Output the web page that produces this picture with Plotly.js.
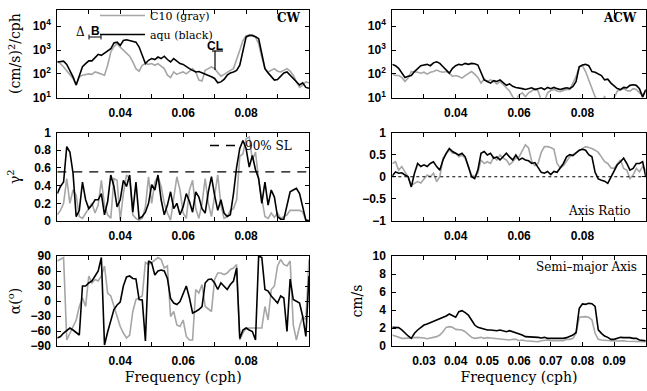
<!DOCTYPE html>
<html><head><meta charset="utf-8">
<script src="https://cdn.plot.ly/plotly-3.0.1.min.js"></script>
<style>html,body{margin:0;padding:0;background:#fff}</style>
</head><body><div id="chart" style="width:647px;height:391px"></div>
<script>
// ---------- data ----------
const freq = [0.020,0.021,0.022,0.023,0.024,0.025,0.026,0.027,0.028,0.029,
  0.030,0.031,0.032,0.033,0.034,0.035,0.036,0.037,0.038,0.039,
  0.040,0.041,0.042,0.043,0.044,0.045,0.046,0.047,0.048,0.049,
  0.050,0.051,0.052,0.053,0.054,0.055,0.056,0.057,0.058,0.059,
  0.060,0.061,0.062,0.063,0.064,0.065,0.066,0.067,0.068,0.069,
  0.070,0.071,0.072,0.073,0.074,0.075,0.076,0.077,0.078,0.079,
  0.080,0.081,0.082,0.083,0.084,0.085,0.086,0.087,0.088,0.089,
  0.090,0.091,0.092,0.093,0.094,0.095,0.096,0.097,0.098,0.099,
  0.100];

// CW spectra (cm/s)^2/cph
const cwAqu = [316,340,340,250,140,75,34,88,200,270,
  350,350,500,660,600,750,980,1130,2000,2150,
  1570,2500,2700,2500,2400,2150,1330,600,270,370,
  440,400,510,440,550,400,316,440,350,270,
  250,195,166,140,120,125,110,100,90,75,
  64,42,46,58,88,110,120,140,230,980,
  3500,4100,4100,3600,3000,700,166,110,75,55,
  58,80,110,120,88,64,46,34,42,27,
  25];
const cwC10 = [340,270,195,130,88,64,34,75,88,95,
  100,95,120,110,95,88,230,830,1400,1830,
  1330,980,700,550,316,166,130,230,270,250,
  270,230,270,210,166,88,70,120,95,110,
  120,100,130,166,120,55,50,140,166,195,
  166,120,80,95,120,140,166,370,980,2500,
  4000,4100,4000,3500,1830,500,166,120,140,166,
  130,120,140,166,130,88,46,27,34,46,
  42];
// ACW spectra
const acwAqu = [250,220,170,107,71,80,85,125,170,220,
  235,250,220,290,320,275,200,145,107,170,
  220,250,235,275,250,275,265,235,107,56,
  48,41,52,48,56,41,33,38,30,27,
  26,24,22,24,26,22,24,26,22,27,
  24,27,24,22,24,26,24,30,48,200,
  235,250,220,125,117,97,85,56,60,41,
  30,24,22,27,26,33,35,33,24,10.6,
  22];
const acwC10 = [100,85,85,71,48,66,125,125,117,107,
  117,97,117,125,145,125,117,125,107,78,
  85,78,66,85,107,125,97,71,41,60,
  48,56,48,38,48,35,24,19,11,8,
  13,16,11,16,19,24,19,8,7,16,
  20,22,19,18,20,22,22,41,78,200,
  220,125,56,26,11,7,7,11,7,7,
  10,19,22,24,20,19,24,22,16,13,
  19];
// coherence squared
const cohAqu = [0.31,0.39,0.44,0.84,0.78,0.54,0.05,0.12,0.44,0.24,
  0.14,0.18,0.24,0.24,0.31,0.07,0.22,0.52,0.39,0.16,
  0.24,0.46,0.39,0.52,0.10,0.44,0.03,0.05,0.10,0.20,
  0.41,0.35,0.52,0.24,0.07,0.18,0.33,0.14,0.20,0.07,
  0.16,0.31,0.22,0.10,0.33,0.27,0.14,0.09,0.33,0.50,
  0.29,0.12,0.24,0.09,0.05,0.07,0.31,0.61,0.82,0.91,
  0.82,0.61,0.74,0.58,0.48,0.20,0.44,0.18,0.35,0.27,
  0.05,0.02,0.02,0.16,0.33,0.35,0.37,0.31,0.14,0.01,
  0];
const cohC10 = [0.07,0.12,0.20,0.48,0.20,0.35,0.29,0.05,0.03,0.09,
  0.14,0.20,0.09,0.18,0.46,0.18,0.07,0.03,0.48,0.46,
  0.01,0.31,0.52,0.48,0.07,0.03,0.01,0.03,0.16,0.50,
  0.20,0.44,0.50,0.39,0.20,0.09,0.01,0.24,0.50,0.35,
  0.09,0.03,0.35,0.46,0.14,0.03,0.20,0.48,0.20,0.05,
  0.31,0.52,0.18,0.03,0.05,0.12,0.14,0.24,0.73,0.76,
  0.93,0.95,0.69,0.78,0.46,0.24,0.05,0.03,0.09,0.04,
  0.09,0.03,0.05,0.07,0.12,0.12,0.12,0.12,0.10,0.01,
  0.01];
const SL90 = 0.555;
// axis ratio
const arAqu = [0.02,0.11,0.08,0.09,0.04,0,-0.23,0.08,0.30,0.23,
  0.27,0.23,0.30,0.34,0.23,0.15,0.38,0.53,0.64,0.57,
  0.53,0.49,0.53,0.45,0.23,0,-0.04,0.15,0.53,0.57,
  0.49,0.53,0.42,0.45,0.38,0.45,0.53,0.45,0.38,0.49,
  0.38,0.42,0.38,0.36,0.30,0.32,0.20,0.10,0.08,0.12,
  0.05,0.12,0.10,0.20,0.30,0.45,0.50,0.48,0.55,0.60,
  0.62,0.60,0.50,0.45,0.10,-0.05,-0.08,-0.10,-0.15,0,
  0.15,0.27,0.34,0.42,0.30,0.15,0.19,0.30,0.30,0.34,
  0];
const arC10 = [0.30,0.34,0.15,0.23,0.11,0,-0.19,-0.15,-0.11,-0.14,
  -0.04,0.04,0,0.08,-0.11,0,0.42,0.53,0.61,0.53,
  0.53,0.45,0.49,0.42,0.23,0.04,0,0.08,0.38,0.30,
  0.34,0.30,0.45,0.38,0.49,0.42,0.38,0.27,0.34,0.42,
  0.45,0.60,0.72,0.65,0.35,0.25,0.30,0.55,0.68,0.68,
  0.66,0.62,0.30,0.20,0.25,0.35,0.45,0.50,0.55,0.60,
  0.64,0.68,0.66,0.64,0.60,0.55,0.45,0.34,0.30,0.20,
  0.19,0.30,0.38,0.19,0.15,-0.04,0.04,0.19,0.11,0.23,
  0.15];
// orientation (degrees)
const angAqu = [-74,-71,-64,-58,-54,-58,-64,-68,30,30,
  36,40,50,60,87,-88,-62,-38,-17,-8,
  -2,30,48,50,45,44,3,2,-80,80,
  76,52,60,62,60,45,5,-4,-7,-1,
  16,30,6,-24,-21,-17,-11,36,43,44,
  36,23,36,30,23,33,40,66,-75,-58,
  -54,-58,-61,-78,90,87,23,20,10,3,
  -4,10,6,-61,44,3,-1,-4,-31,-71,
  50];
const angC10 = [80,83,87,-78,-64,-51,-38,-11,6,-11,
  50,36,43,40,50,70,16,10,-11,-34,
  -51,-64,-74,-68,-21,3,6,10,77,73,
  77,83,87,83,66,70,-31,-21,-48,-51,
  -38,-71,-78,-78,23,16,33,-11,-17,-21,
  43,56,56,53,56,63,66,73,-78,-64,
  -54,-54,-54,-54,-54,-54,-11,-38,23,30,
  70,83,73,70,80,-48,-78,-51,-31,-38,
  83];
// semi-major axis (cm/s)
const smaAqu = [2.07,2.07,2.04,1.78,1.41,1.11,0.85,1.41,1.78,2.07,
  2.33,2.44,2.59,2.70,2.89,2.96,3.19,3.33,3.56,3.33,
  3.19,3.81,3.93,3.70,3.44,2.89,2.33,2.07,1.96,1.85,
  1.78,1.78,1.70,1.70,1.78,1.70,1.59,1.70,1.59,1.48,
  1.41,1.22,1.04,1.04,0.96,1.04,0.96,0.89,0.96,0.85,
  0.85,0.81,0.81,0.85,0.85,0.93,1.04,1.22,1.50,4.20,
  4.67,4.63,4.74,4.70,4.40,1.80,1.40,1.11,0.96,0.74,
  0.74,0.85,0.96,0.93,0.96,0.93,0.85,0.85,0.67,0.59,
  0.59];
const smaC10 = [1.22,1.11,0.93,0.85,0.85,0.85,0.85,0.93,0.96,0.96,
  0.89,0.81,0.85,0.96,1.04,1.22,1.59,2.07,2.15,2.07,
  1.85,1.85,1.78,1.59,1.22,0.96,0.85,0.93,0.96,0.85,
  0.93,0.89,0.85,0.81,0.74,0.74,0.67,0.67,0.74,0.74,
  0.59,0.67,0.59,0.56,0.59,0.56,0.48,0.59,0.67,0.67,
  0.59,0.59,0.67,0.67,0.59,0.74,0.74,0.85,1.41,3.19,
  3.26,3.26,3.19,2.89,1.41,0.74,0.67,0.67,0.67,0.59,
  0.56,0.59,0.59,0.59,0.52,0.52,0.48,0.48,0.44,0.44,
  0.48];

const xTicksSparse = [0.04,0.06,0.08];
const xTickTextSparse = ['0.04','0.06','0.08'];
const xTicksFull = [0.03,0.04,0.05,0.06,0.07,0.08,0.09];
const xTickTextFull = ['0.03','0.04','0.05','0.06','0.07','0.08','0.09'];
const logTicks = [10,100,1000,10000];
const logTickText = ['10<sup>1</sup>','10<sup>2</sup>','10<sup>3</sup>','10<sup>4</sup>'];

// ---------- layout helpers ----------
const W = 647, H = 391;
const px = v => v / W, py = v => 1 - v / H;
const GRAY = '#a6a6a6', BLACK = '#000';
const serif = 'DejaVu Serif, serif';
const tickFont = {family:'Liberation Sans, Arial, sans-serif', size:12, color:'#000', weight:'bold'};
const titleFont = {family:serif, size:14, color:'#000'};

const colL = [px(57.3), px(309)], colR = [px(392.3), px(645.8)];
const row1 = [py(97.7), py(9.5)], row2 = [py(221), py(132.5)], row3 = [py(346), py(256)];

function baseAx(extra){
  return Object.assign({ticks:'inside', ticklen:4, tickwidth:1, tickcolor:'#000', showline:true,
    linecolor:'#000', linewidth:1, mirror:'ticks', showgrid:false, zeroline:false,
    tickfont:tickFont, fixedrange:true}, extra);
}
function xAx(dom, anchor, full, title){
  const a = baseAx({domain:dom, anchor:anchor, range:[0.02,0.1], tickmode:'array',
    tickvals: full ? xTicksFull : xTicksSparse, ticktext: full ? xTickTextFull : xTickTextSparse,
    ticklabelstandoff:4,
    minor:{tickmode:'linear', tick0:0.02, dtick:0.01, ticks:'inside', ticklen:4, tickcolor:'#000', showgrid:false}});
  if (title) a.title = {text:title, font:titleFont, standoff:4};
  return a;
}
function yAx(dom, anchor, extra, title, standoff){
  const a = baseAx(Object.assign({domain:dom, anchor:anchor, ticklabelstandoff:3}, extra));
  if (title) a.title = {text:title, font:titleFont, standoff:standoff};
  return a;
}

function line(x, y, xa, ya, color, name, show, legend){
  return {x:x, y:y, xaxis:xa, yaxis:ya, type:'scatter', mode:'lines', name:name,
    line:{color:color, width:1.6}, showlegend:!!show, legend:legend || 'legend', hoverinfo:'skip'};
}

const data = [
  line(freq, cwC10, 'x', 'y', GRAY, 'C10 (gray)', true),
  line(freq, cwAqu, 'x', 'y', BLACK, 'aqu (black)', true),
  line(freq, acwC10, 'x2', 'y2', GRAY, 'C10', false),
  line(freq, acwAqu, 'x2', 'y2', BLACK, 'aqu', false),
  line(freq, cohC10, 'x3', 'y3', GRAY, 'C10', false),
  line(freq, cohAqu, 'x3', 'y3', BLACK, 'aqu', false),
  {x:[freq[0], freq[freq.length-1]], y:[SL90, SL90], xaxis:'x3', yaxis:'y3', type:'scatter', mode:'lines',
    name:'90% SL', line:{color:'#000', width:1.4, dash:'9px,7px'}, showlegend:true, legend:'legend2', hoverinfo:'skip'},
  line(freq, arC10, 'x4', 'y4', GRAY, 'C10', false),
  line(freq, arAqu, 'x4', 'y4', BLACK, 'aqu', false),
  line(freq, angC10, 'x5', 'y5', GRAY, 'C10', false),
  line(freq, angAqu, 'x5', 'y5', BLACK, 'aqu', false),
  line(freq, smaC10, 'x6', 'y6', GRAY, 'C10', false),
  line(freq, smaAqu, 'x6', 'y6', BLACK, 'aqu', false)
];

const annFont = {family:serif, size:12, color:'#000'};
const layout = {
  width:W, height:H, margin:{l:0, r:0, t:0, b:0}, paper_bgcolor:'#fff', plot_bgcolor:'#fff',
  showlegend:true,
  xaxis: xAx(colL, 'y', false),
  yaxis: yAx(row1, 'x', {type:'log', range:[1,4.7], tickmode:'array', tickvals:logTicks, ticktext:logTickText},
    '(cm/s)<sup>2</sup>/cph', 8),
  xaxis2: xAx(colR, 'y2', false),
  yaxis2: yAx(row1, 'x2', {type:'log', range:[1,4.7], tickmode:'array', tickvals:logTicks, ticktext:logTickText}),
  xaxis3: xAx(colL, 'y3', false),
  yaxis3: yAx(row2, 'x3', {range:[0,1], dtick:0.2}, 'γ<sup>2</sup>', 10),
  xaxis4: xAx(colR, 'y4', false),
  yaxis4: yAx(row2, 'x4', {range:[-1,1], dtick:0.5}),
  xaxis5: xAx(colL, 'y5', false, 'Frequency (cph)'),
  yaxis5: yAx(row3, 'x5', {range:[-90,90], dtick:30}, 'α(<sup>o</sup>)', 6),
  xaxis6: xAx(colR, 'y6', true, 'Frequency (cph)'),
  yaxis6: yAx(row3, 'x6', {range:[0,10], dtick:2}, 'cm/s', 6),
  legend: {x:px(95), y:py(1), xanchor:'left', yanchor:'top', bgcolor:'rgba(0,0,0,0)', borderwidth:0,
    font:{family:serif, size:11, color:'#000'}, itemwidth:45, tracegroupgap:0, traceorder:'normal'},
  legend2: {x:px(205), y:py(131), xanchor:'left', yanchor:'top', bgcolor:'rgba(0,0,0,0)', borderwidth:0,
    font:{family:serif, size:12, color:'#000'}, itemwidth:30},
  annotations: [
    {text:'<b>CW</b>', xref:'paper', yref:'paper', x:px(288.5), y:py(17.5), showarrow:false, font:annFont, xanchor:'center', yanchor:'middle'},
    {text:'<b>ACW</b>', xref:'paper', yref:'paper', x:px(620), y:py(18), showarrow:false, font:annFont, xanchor:'center', yanchor:'middle'},
    {text:'Axis Ratio', xref:'paper', yref:'paper', x:px(599), y:py(211), showarrow:false, font:annFont, xanchor:'center', yanchor:'middle'},
    {text:'Semi–major Axis', xref:'paper', yref:'paper', x:px(586.5), y:py(267), showarrow:false, font:annFont, xanchor:'center', yanchor:'middle'},
    {text:'Δ', xref:'paper', yref:'paper', x:px(80), y:py(32), showarrow:false, font:{family:serif, size:12, color:'#000'}, xanchor:'center', yanchor:'middle'},
    {text:'<b>B</b>', xref:'paper', yref:'paper', x:px(95), y:py(31), showarrow:false, font:{family:'Liberation Sans, Arial', size:12, color:'#000'}, xanchor:'center', yanchor:'middle'},
    {text:'<b>CL</b>', xref:'paper', yref:'paper', x:px(214.5), y:py(46), showarrow:false, font:{family:'Liberation Sans, Arial', size:12, color:'#000'}, xanchor:'center', yanchor:'middle'}
  ],
  shapes: [
    {type:'line', xref:'paper', yref:'paper', x0:px(89), x1:px(101), y0:py(37), y1:py(37), line:{color:'#000', width:1}},
    {type:'line', xref:'paper', yref:'paper', x0:px(89), x1:px(89), y0:py(34.5), y1:py(39.5), line:{color:'#000', width:1}},
    {type:'line', xref:'paper', yref:'paper', x0:px(101), x1:px(101), y0:py(34.5), y1:py(39.5), line:{color:'#000', width:1}},
    {type:'line', xref:'paper', yref:'paper', x0:px(215), x1:px(215), y0:py(51), y1:py(70), line:{color:'#000', width:1.2}},
    {type:'line', xref:'paper', yref:'paper', x0:px(212), x1:px(223), y0:py(51), y1:py(51), line:{color:'#000', width:1.2}},
    {type:'line', xref:'x4 domain', yref:'y4', x0:0, x1:1, y0:0, y1:0, line:{color:'#000', width:1, dash:'dot'}}
  ]
};

Plotly.newPlot('chart', data, layout, {displayModeBar:false, staticPlot:true});
</script></body></html>
